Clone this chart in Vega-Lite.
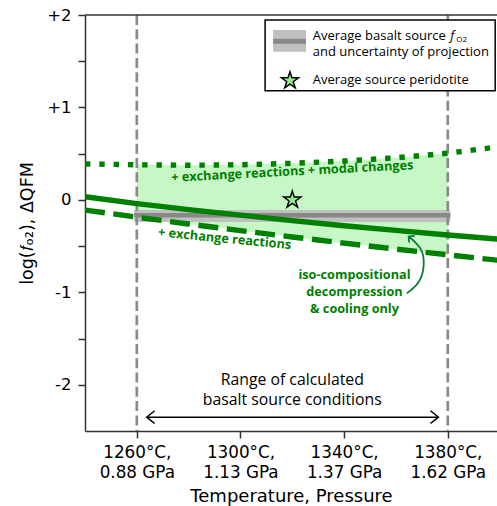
{
  "$schema": "https://vega.github.io/schema/vega-lite/v6.json",
  "width": 412,
  "height": 416,
  "autosize": {"type": "none"},
  "padding": {"left": 85, "top": 15, "right": 0, "bottom": 75},
  "background": "white",
  "config": {"view": {"stroke": null}, "font": "DejaVu Sans"},
  "datasets": {
    "curves": [
      {"T": 1240, "solid": 0.035, "dashed": -0.11, "dotted": 0.39},
      {"T": 1260, "solid": -0.04, "dashed": -0.187, "dotted": 0.38},
      {"T": 1280, "solid": -0.105, "dashed": -0.261, "dotted": 0.375},
      {"T": 1300, "solid": -0.165, "dashed": -0.332, "dotted": 0.38},
      {"T": 1320, "solid": -0.225, "dashed": -0.401, "dotted": 0.395},
      {"T": 1340, "solid": -0.28, "dashed": -0.468, "dotted": 0.42},
      {"T": 1360, "solid": -0.33, "dashed": -0.532, "dotted": 0.455},
      {"T": 1380, "solid": -0.38, "dashed": -0.594, "dotted": 0.505},
      {"T": 1400, "solid": -0.425, "dashed": -0.655, "dotted": 0.575}
    ],
    "bandrows": [{"T": 1259, "T2": 1381, "lo": -0.24, "hi": -0.11, "mid": -0.165}],
    "vlinerows": [{"T": 1260}, {"T": 1380}],
    "starrows": [{"T": 1320, "v": 0}],
    "topspine": [{"v": 2}],
    "legboxrows": [{"T": 1309.5, "T2": 1398.3, "v": 1.181, "v2": 1.946}],
    "legpatchrows": [{"T": 1312.6, "T2": 1325.3, "v": 1.603, "v2": 1.838, "mid": 1.717}],
    "legstarrows": [{"T": 1319.1, "v": 1.29}],
    "arrowrows": [{"T": 1263.8, "T2": 1376.4, "v": -2.35}],
    "curlrows": [
      {"i": 1, "T": 1364.2, "v": -1.011},
      {"i": 2, "T": 1368.5, "v": -0.899},
      {"i": 3, "T": 1370.6, "v": -0.737},
      {"i": 4, "T": 1370.1, "v": -0.564},
      {"i": 5, "T": 1367.4, "v": -0.456},
      {"i": 6, "T": 1364.9, "v": -0.396}
    ],
    "noterows": [
      {"kind": "leg", "T": 1327.9, "v": 1.733, "text": "Average basalt source"},
      {"kind": "leg", "T": 1327.9, "v": 1.56, "text": "and uncertainty of projection"},
      {"kind": "leg", "T": 1327.9, "v": 1.254, "text": "Average source peridotite"},
      {"kind": "legf", "T": 1381.0, "v": 1.733, "text": "f"},
      {"kind": "legsub", "T": 1383.3, "v": 1.705, "text": "O2"},
      {"kind": "g1", "T": 1320, "v": 0.307, "text": "+ exchange reactions + modal changes"},
      {"kind": "g2", "T": 1293.9, "v": -0.42, "text": "+ exchange reactions"},
      {"kind": "g3", "T": 1344, "v": -0.813, "text": "iso-compositional\ndecompression\n& cooling only"},
      {"kind": "range", "T": 1320, "v": -1.948, "text": "Range of calculated\nbasalt source conditions"}
    ]
  },
  "layer": [
    {
      "data": {"name": "curves"},
      "transform": [{"filter": "datum.T >= 1260 && datum.T <= 1380"}],
      "mark": {"type": "area", "color": "#90ee90", "opacity": 0.5},
      "encoding": {
        "x": {
          "field": "T", "type": "quantitative",
          "scale": {"domain": [1240, 1399], "nice": false, "zero": false},
          "title": "Temperature, Pressure",
          "axis": {
            "values": [1260, 1300, 1340, 1380],
            "labelExpr": "[datum.value + '°C,', datum.value == 1260 ? '0.88 GPa' : datum.value == 1300 ? '1.13 GPa' : datum.value == 1340 ? '1.37 GPa' : '1.62 GPa']",
            "labelFont": "DejaVu Sans", "labelFontSize": 16.8, "labelColor": "black",
            "labelLineHeight": 20.5, "labelPadding": 6,
            "labelAngle": 0, "labelFlush": false, "labelOverlap": false,
            "tickSize": 7, "tickWidth": 1.5, "tickColor": "#333",
            "domainColor": "#333", "domainWidth": 1.5,
            "grid": false,
            "titleFont": "DejaVu Sans", "titleFontSize": 18, "titleFontWeight": "normal", "titleColor": "black",
            "titleBaseline": "alphabetic", "titleY": 70
          }
        },
        "y": {
          "field": "dotted", "type": "quantitative",
          "scale": {"domain": [-2.5, 2], "nice": false, "zero": false},
          "title": "log(𝑓ₒ₂), ΔQFM",
          "axis": {
            "values": [-2, -1.5, -1, -0.5, 0, 0.5, 1, 1.5, 2],
            "labelExpr": "datum.value % 1 != 0 ? '' : datum.value > 0 ? '+' + datum.value : datum.value < 0 ? '-' + abs(datum.value) : '0'",
            "labelFont": "DejaVu Sans", "labelFontSize": 16.5, "labelColor": "black",
            "labelPadding": 7, "labelOverlap": false, "labelFlush": false,
            "tickSize": 7,
            "tickWidth": 1.5, "tickColor": "#333",
            "domainColor": "#333", "domainWidth": 1.5,
            "grid": false,
            "titleFont": "DejaVu Sans", "titleFontSize": 17.5, "titleFontWeight": "normal", "titleColor": "black",
            "titleX": -58, "titleBaseline": "middle"
          }
        },
        "y2": {"field": "dashed"}
      }
    },
    {
      "data": {"name": "bandrows"},
      "mark": {"type": "rect", "color": "#c0c0c0"},
      "encoding": {
        "x": {"field": "T", "type": "quantitative"},
        "x2": {"field": "T2"},
        "y": {"field": "lo", "type": "quantitative"},
        "y2": {"field": "hi"}
      }
    },
    {
      "data": {"name": "bandrows"},
      "mark": {"type": "rule", "color": "#888888", "strokeWidth": 4.5},
      "encoding": {
        "x": {"field": "T", "type": "quantitative"},
        "x2": {"field": "T2"},
        "y": {"field": "mid", "type": "quantitative"}
      }
    },
    {
      "data": {"name": "vlinerows"},
      "mark": {"type": "rule", "color": "#8a8a8a", "strokeWidth": 2.7, "strokeDash": [10, 4.3]},
      "encoding": {"x": {"field": "T", "type": "quantitative"}}
    },
    {
      "data": {"name": "curves"},
      "mark": {"type": "line", "color": "#008000", "strokeWidth": 5.4, "strokeDash": [5.4, 8.9], "strokeCap": "butt", "clip": true},
      "encoding": {
        "x": {"field": "T", "type": "quantitative"},
        "y": {"field": "dotted", "type": "quantitative"}
      }
    },
    {
      "data": {"name": "curves"},
      "mark": {"type": "line", "color": "#008000", "strokeWidth": 5.4, "strokeDash": [20, 8.6], "strokeCap": "butt", "clip": true},
      "encoding": {
        "x": {"field": "T", "type": "quantitative"},
        "y": {"field": "dashed", "type": "quantitative"}
      }
    },
    {
      "data": {"name": "curves"},
      "mark": {"type": "line", "color": "#008000", "strokeWidth": 5.4, "clip": true},
      "encoding": {
        "x": {"field": "T", "type": "quantitative"},
        "y": {"field": "solid", "type": "quantitative"}
      }
    },
    {
      "data": {"name": "starrows"},
      "mark": {"type": "point", "shape": "M0,-1L0.2245,-0.309L0.951,-0.309L0.3633,0.118L0.588,0.809L0,0.382L-0.588,0.809L-0.3633,0.118L-0.951,-0.309L-0.2245,-0.309Z", "size": 320, "filled": true, "fill": "#90ee90", "stroke": "black", "strokeWidth": 1.5, "opacity": 1},
      "encoding": {
        "x": {"field": "T", "type": "quantitative"},
        "y": {"field": "v", "type": "quantitative"}
      }
    },
    {
      "data": {"name": "topspine"},
      "mark": {"type": "rule", "color": "#333", "strokeWidth": 1.5},
      "encoding": {"y": {"field": "v", "type": "quantitative"}}
    },
    {
      "data": {"name": "legboxrows"},
      "mark": {"type": "rect", "fill": "white", "stroke": "black", "strokeWidth": 1.5},
      "encoding": {
        "x": {"field": "T", "type": "quantitative"},
        "x2": {"field": "T2"},
        "y": {"field": "v", "type": "quantitative"},
        "y2": {"field": "v2"}
      }
    },
    {
      "data": {"name": "legpatchrows"},
      "mark": {"type": "rect", "color": "#c0c0c0"},
      "encoding": {
        "x": {"field": "T", "type": "quantitative"},
        "x2": {"field": "T2"},
        "y": {"field": "v", "type": "quantitative"},
        "y2": {"field": "v2"}
      }
    },
    {
      "data": {"name": "legpatchrows"},
      "mark": {"type": "rule", "color": "#888888", "strokeWidth": 5},
      "encoding": {
        "x": {"field": "T", "type": "quantitative"},
        "x2": {"field": "T2"},
        "y": {"field": "mid", "type": "quantitative"}
      }
    },
    {
      "data": {"name": "legstarrows"},
      "mark": {"type": "point", "shape": "M0,-1L0.2245,-0.309L0.951,-0.309L0.3633,0.118L0.588,0.809L0,0.382L-0.588,0.809L-0.3633,0.118L-0.951,-0.309L-0.2245,-0.309Z", "size": 320, "filled": true, "fill": "#90ee90", "stroke": "black", "strokeWidth": 1.5, "opacity": 1},
      "encoding": {
        "x": {"field": "T", "type": "quantitative"},
        "y": {"field": "v", "type": "quantitative"}
      }
    },
    {
      "data": {"name": "noterows"},
      "transform": [{"filter": "datum.kind == 'leg'"}],
      "mark": {"type": "text", "font": "Open Sans", "fontSize": 13, "align": "left", "baseline": "alphabetic", "color": "black"},
      "encoding": {
        "x": {"field": "T", "type": "quantitative"},
        "y": {"field": "v", "type": "quantitative"},
        "text": {"field": "text"}
      }
    },
    {
      "data": {"name": "noterows"},
      "transform": [{"filter": "datum.kind == 'legf'"}],
      "mark": {"type": "text", "font": "Open Sans", "fontStyle": "italic", "fontSize": 13, "align": "left", "baseline": "alphabetic", "color": "black"},
      "encoding": {
        "x": {"field": "T", "type": "quantitative"},
        "y": {"field": "v", "type": "quantitative"},
        "text": {"field": "text"}
      }
    },
    {
      "data": {"name": "noterows"},
      "transform": [{"filter": "datum.kind == 'legsub'"}],
      "mark": {"type": "text", "font": "Open Sans", "fontSize": 8, "align": "left", "baseline": "alphabetic", "color": "black"},
      "encoding": {
        "x": {"field": "T", "type": "quantitative"},
        "y": {"field": "v", "type": "quantitative"},
        "text": {"field": "text"}
      }
    },
    {
      "data": {"name": "noterows"},
      "transform": [{"filter": "datum.kind == 'g1'"}],
      "mark": {"type": "text", "font": "Open Sans", "fontWeight": "bold", "fontSize": 12.7, "align": "center", "baseline": "middle", "color": "#008000", "angle": 357},
      "encoding": {
        "x": {"field": "T", "type": "quantitative"},
        "y": {"field": "v", "type": "quantitative"},
        "text": {"field": "text"}
      }
    },
    {
      "data": {"name": "noterows"},
      "transform": [{"filter": "datum.kind == 'g2'"}],
      "mark": {"type": "text", "font": "Open Sans", "fontWeight": "bold", "fontSize": 12.7, "align": "center", "baseline": "middle", "color": "#008000", "angle": 5.5},
      "encoding": {
        "x": {"field": "T", "type": "quantitative"},
        "y": {"field": "v", "type": "quantitative"},
        "text": {"field": "text"}
      }
    },
    {
      "data": {"name": "noterows"},
      "transform": [{"filter": "datum.kind == 'g3'"}],
      "mark": {"type": "text", "font": "Open Sans", "fontWeight": "bold", "fontSize": 12.7, "align": "center", "baseline": "middle", "color": "#008000", "lineBreak": "\n", "lineHeight": 17},
      "encoding": {
        "x": {"field": "T", "type": "quantitative"},
        "y": {"field": "v", "type": "quantitative"},
        "text": {"field": "text"}
      }
    },
    {
      "data": {"name": "noterows"},
      "transform": [{"filter": "datum.kind == 'range'"}],
      "mark": {"type": "text", "font": "Open Sans", "fontSize": 15.8, "align": "center", "baseline": "middle", "color": "black", "lineBreak": "\n", "lineHeight": 20.5},
      "encoding": {
        "x": {"field": "T", "type": "quantitative"},
        "y": {"field": "v", "type": "quantitative"},
        "text": {"field": "text"}
      }
    },
    {
      "data": {"name": "arrowrows"},
      "mark": {"type": "rule", "color": "black", "strokeWidth": 1.5},
      "encoding": {
        "x": {"field": "T", "type": "quantitative"},
        "x2": {"field": "T2"},
        "y": {"field": "v", "type": "quantitative"}
      }
    },
    {
      "data": {"name": "arrowrows"},
      "mark": {"type": "point", "shape": "M1,-0.8L0,0L1,0.8", "size": 256, "filled": false, "stroke": "black", "strokeWidth": 1.5, "opacity": 1},
      "encoding": {
        "x": {"field": "T", "type": "quantitative"},
        "y": {"field": "v", "type": "quantitative"}
      }
    },
    {
      "data": {"name": "arrowrows"},
      "mark": {"type": "point", "shape": "M-1,-0.8L0,0L-1,0.8", "size": 256, "filled": false, "stroke": "black", "strokeWidth": 1.5, "opacity": 1},
      "encoding": {
        "x": {"field": "T2", "type": "quantitative"},
        "y": {"field": "v", "type": "quantitative"}
      }
    },
    {
      "data": {"name": "curlrows"},
      "mark": {"type": "line", "color": "#0a7a3c", "strokeWidth": 1.8, "interpolate": "natural"},
      "encoding": {
        "x": {"field": "T", "type": "quantitative"},
        "y": {"field": "v", "type": "quantitative"},
        "order": {"field": "i", "type": "quantitative"}
      }
    },
    {
      "data": {"name": "curlrows"},
      "transform": [{"filter": "datum.i == 6"}],
      "mark": {"type": "point", "shape": "M-1,1L0,0L1,1", "size": 72, "filled": false, "stroke": "#0a7a3c", "strokeWidth": 1.8, "opacity": 1, "angle": 310},
      "encoding": {
        "x": {"field": "T", "type": "quantitative"},
        "y": {"field": "v", "type": "quantitative"}
      }
    }
  ]
}
